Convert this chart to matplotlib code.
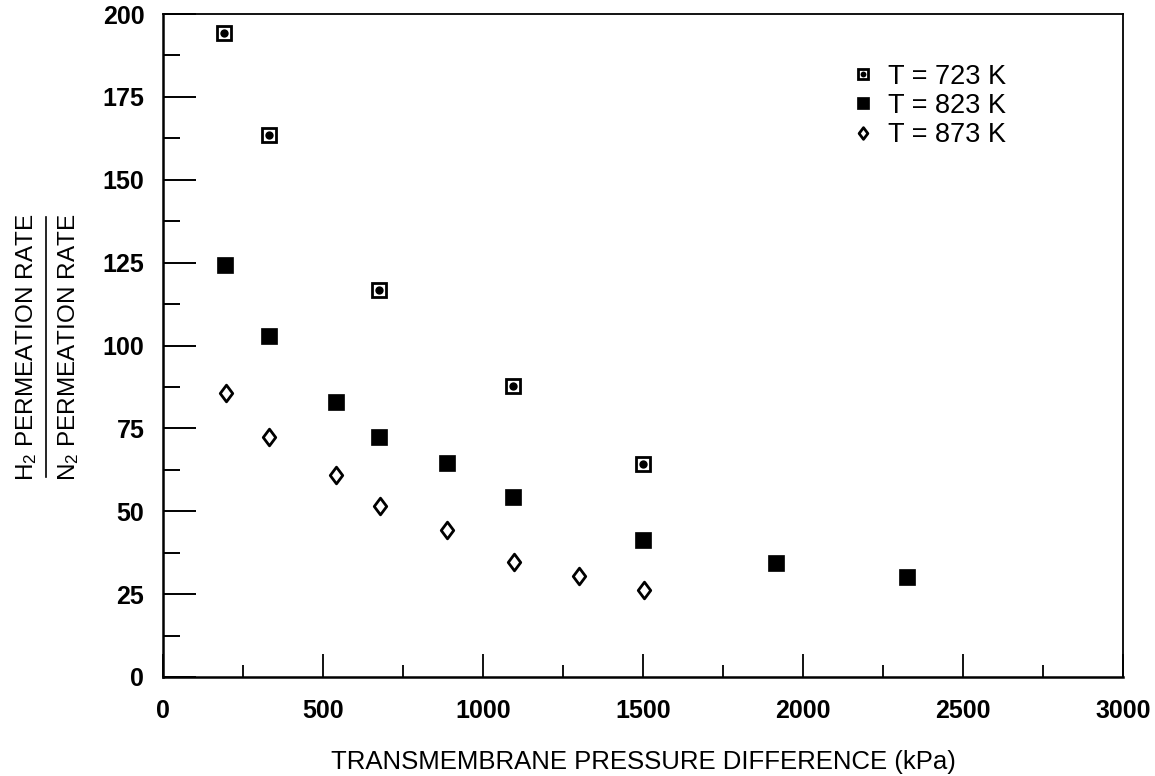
import matplotlib
matplotlib.use('Agg')
import matplotlib.pyplot as plt
import matplotlib.ticker as ticker
from matplotlib.path import Path
from matplotlib.lines import Line2D
import numpy as np


# Fonts
plt.rcParams['font.family'] = ['Liberation Sans', 'DejaVu Sans']
plt.rcParams['mathtext.fontset'] = 'custom'
plt.rcParams['mathtext.rm'] = 'Liberation Sans'
plt.rcParams['mathtext.it'] = 'Liberation Sans'
plt.rcParams['mathtext.bf'] = 'Liberation Sans:bold'

# Data: selectivity H2/N2 vs. transmembrane pressure difference
dp_723 = [191, 332, 676, 1094, 1501]
sel_723 = [194.2, 163.5, 116.7, 87.8, 64.2]

dp_823 = [194, 332, 540, 676, 886, 1095, 1501, 1916, 2326]
sel_823 = [124.3, 103.0, 82.9, 72.3, 64.5, 54.4, 41.2, 34.3, 30.3]

dp_873 = [197, 332, 541, 678, 887, 1097, 1300, 1503]
sel_873 = [85.6, 72.5, 60.9, 51.7, 44.3, 34.6, 30.6, 26.1]

series_labels = ['T = 723 K', 'T = 823 K', 'T = 873 K']

W, H = 1155, 776
DPI = 100

fig = plt.figure(figsize=(W / DPI, H / DPI), dpi=DPI, facecolor='white')
ax = fig.add_axes([163 / W, (H - 677) / H, 960 / W, 663 / H])

# slim open diamond
diamond = Path([(0, 1), (0.75, 0), (0, -1), (-0.75, 0), (0, 1)],
               [Path.MOVETO, Path.LINETO, Path.LINETO, Path.LINETO, Path.CLOSEPOLY])

sq_open, = ax.plot(dp_723, sel_723, ls='none', marker='s', ms=10, mew=2.0,
                   mfc='white', mec='black', zorder=3)
sq_dot, = ax.plot(dp_723, sel_723, ls='none', marker='o', ms=6,
                  mfc='black', mec='black', mew=0, zorder=4)
sq_fill, = ax.plot(dp_823, sel_823, ls='none', marker='s', ms=11.5, mew=0.5,
                   mfc='black', mec='black', zorder=3)
dia, = ax.plot(dp_873, sel_873, ls='none', marker=diamond, ms=12, mew=2.0,
               mfc='white', mec='black', zorder=3)

ax.set_xlim(0, 3000)
ax.set_ylim(0, 200)

ax.xaxis.set_major_locator(ticker.MultipleLocator(500))
ax.xaxis.set_minor_locator(ticker.MultipleLocator(250))
ax.yaxis.set_major_locator(ticker.MultipleLocator(25))
ax.yaxis.set_minor_locator(ticker.MultipleLocator(12.5))

ax.tick_params(axis='x', which='major', direction='in', length=16.5, width=1.3,
               pad=16, labelsize=18, top=False)
ax.tick_params(axis='x', which='minor', direction='in', length=8.5, width=1.3, top=False)
ax.tick_params(axis='y', which='major', direction='in', length=23.5, width=1.4,
               pad=13.5, labelsize=18, right=False)
ax.tick_params(axis='y', which='minor', direction='in', length=12, width=1.4, right=False)
for lab in ax.get_xticklabels() + ax.get_yticklabels():
    lab.set_fontweight('bold')

for side in ['left', 'bottom']:
    ax.spines[side].set_linewidth(1.8)
for side in ['top', 'right']:
    ax.spines[side].set_linewidth(1.3)

ax.set_xlabel('TRANSMEMBRANE PRESSURE DIFFERENCE (kPa)', fontsize=18.5, labelpad=19)

# y label drawn as a fraction
fig.text(33 / W, 1 - 347 / H, r'H$_2$ PERMEATION RATE', rotation=90,
         rotation_mode='anchor', ha='center', va='baseline', fontsize=17.5)
fig.text(75 / W, 1 - 347 / H, r'N$_2$ PERMEATION RATE', rotation=90,
         rotation_mode='anchor', ha='center', va='baseline', fontsize=17.5)
fig.add_artist(Line2D([46 / W, 46 / W], [1 - 217 / H, 1 - 477 / H],
                      transform=fig.transFigure, color='black', lw=1.2))

leg = ax.legend([(sq_open, sq_dot), sq_fill, dia], series_labels,
                loc='upper left', bbox_to_anchor=(0.716, 0.925), frameon=False,
                fontsize=19.5, markerscale=0.7, handlelength=0.95,
                handletextpad=0.45, labelspacing=0.12, borderpad=0,
                borderaxespad=0)

fig.savefig('out.png', dpi=DPI, facecolor='white')
